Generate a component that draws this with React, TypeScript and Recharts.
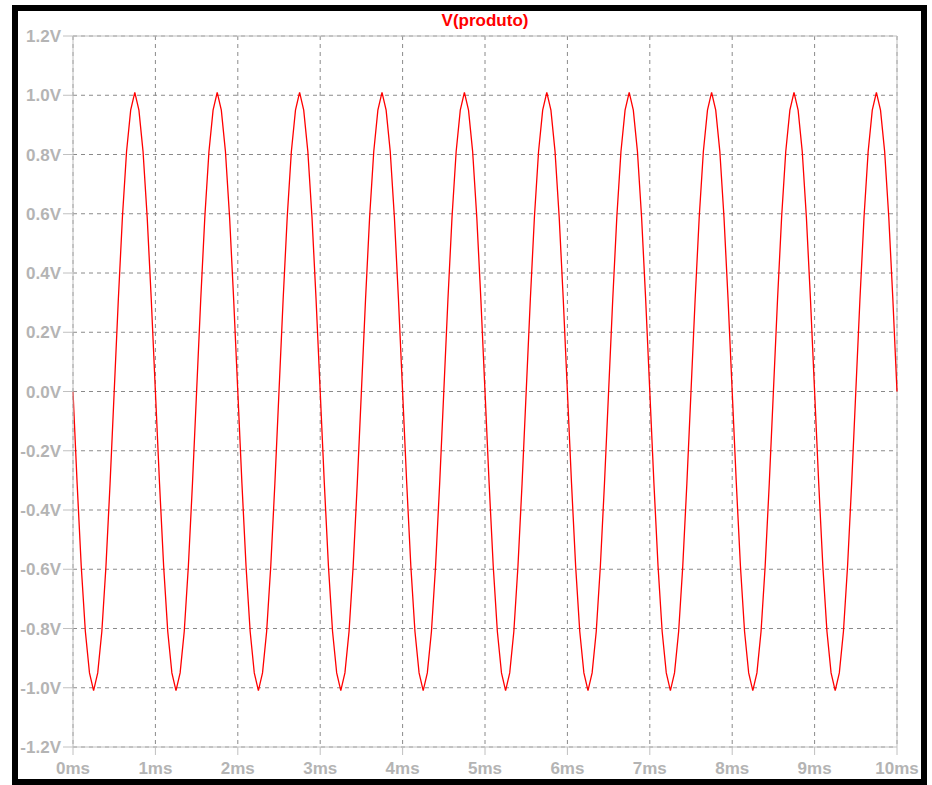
import React from 'react';
import {
  LineChart,
  Line,
  XAxis,
  YAxis,
  CartesianGrid,
  ReferenceLine,
} from 'recharts';

// sample spacing of the trace (ms)
const STEP_MS = 0.05;

// V(produto), one row per 1 ms period, 20 samples each
const VOLTS = [
  0, -0.31, -0.59, -0.81, -0.95, -1.01, -0.95, -0.81, -0.59, -0.31, 0, 0.31, 0.59, 0.81, 0.95, 1.01, 0.95, 0.81, 0.59, 0.31,
  0, -0.31, -0.59, -0.81, -0.95, -1.01, -0.95, -0.81, -0.59, -0.31, 0, 0.31, 0.59, 0.81, 0.95, 1.01, 0.95, 0.81, 0.59, 0.31,
  0, -0.31, -0.59, -0.81, -0.95, -1.01, -0.95, -0.81, -0.59, -0.31, 0, 0.31, 0.59, 0.81, 0.95, 1.01, 0.95, 0.81, 0.59, 0.31,
  0, -0.31, -0.59, -0.81, -0.95, -1.01, -0.95, -0.81, -0.59, -0.31, 0, 0.31, 0.59, 0.81, 0.95, 1.01, 0.95, 0.81, 0.59, 0.31,
  0, -0.31, -0.59, -0.81, -0.95, -1.01, -0.95, -0.81, -0.59, -0.31, 0, 0.31, 0.59, 0.81, 0.95, 1.01, 0.95, 0.81, 0.59, 0.31,
  0, -0.31, -0.59, -0.81, -0.95, -1.01, -0.95, -0.81, -0.59, -0.31, 0, 0.31, 0.59, 0.81, 0.95, 1.01, 0.95, 0.81, 0.59, 0.31,
  0, -0.31, -0.59, -0.81, -0.95, -1.01, -0.95, -0.81, -0.59, -0.31, 0, 0.31, 0.59, 0.81, 0.95, 1.01, 0.95, 0.81, 0.59, 0.31,
  0, -0.31, -0.59, -0.81, -0.95, -1.01, -0.95, -0.81, -0.59, -0.31, 0, 0.31, 0.59, 0.81, 0.95, 1.01, 0.95, 0.81, 0.59, 0.31,
  0, -0.31, -0.59, -0.81, -0.95, -1.01, -0.95, -0.81, -0.59, -0.31, 0, 0.31, 0.59, 0.81, 0.95, 1.01, 0.95, 0.81, 0.59, 0.31,
  0, -0.31, -0.59, -0.81, -0.95, -1.01, -0.95, -0.81, -0.59, -0.31, 0, 0.31, 0.59, 0.81, 0.95, 1.01, 0.95, 0.81, 0.59, 0.31,
  0,
];

const X_TICKS = [0, 1, 2, 3, 4, 5, 6, 7, 8, 9, 10];
const Y_TICKS = [-1.2, -1.0, -0.8, -0.6, -0.4, -0.2, 0, 0.2, 0.4, 0.6, 0.8, 1.0, 1.2];

const data = VOLTS.map((v, i) => ({ t: i * STEP_MS, v }));

const labelStyle = {
  fontFamily: 'Liberation Sans, Arial, sans-serif',
  fontSize: 17,
  fontWeight: 'bold',
  fill: '#b4b4b4',
};

export default function App() {
  return (
    <div style={{ position: 'absolute', left: 0, top: 0, width: 932, height: 785, background: '#fff' }}>
      {/* black frame around the plot window */}
      <div
        style={{
          position: 'absolute',
          left: 12,
          top: 5,
          width: 915,
          height: 780,
          border: '6px solid #000',
          boxSizing: 'border-box',
        }}
      />
      <div
        style={{
          position: 'absolute',
          left: 385,
          width: 200,
          top: 11,
          textAlign: 'center',
          fontFamily: 'Liberation Sans, Arial, sans-serif',
          fontWeight: 'bold',
          fontSize: 17,
          color: '#ff0000',
        }}
      >
        V(produto)
      </div>
      <LineChart
        width={932}
        height={785}
        data={data}
        margin={{ top: 36, right: 35, bottom: 8, left: 13 }}
        style={{ position: 'absolute', left: 0, top: 0 }}
      >
        <CartesianGrid stroke="#8a8a8a" strokeDasharray="4 4" />
        <XAxis
          dataKey="t"
          type="number"
          domain={[0, 10]}
          ticks={X_TICKS}
          tickFormatter={(t) => `${t}ms`}
          height={30}
          tickSize={8}
          tickMargin={7}
          stroke="#c0c0c0"
          tick={labelStyle}
          interval={0}
        />
        <YAxis
          type="number"
          domain={[-1.2, 1.2]}
          ticks={Y_TICKS}
          tickFormatter={(v) => `${v.toFixed(1)}V`}
          width={60}
          tickSize={10}
          tickMargin={2}
          stroke="#c0c0c0"
          tick={labelStyle}
          interval={0}
        />
        <ReferenceLine y={1.2} stroke="#c0c0c0" />
        <ReferenceLine x={10} stroke="#c0c0c0" />
        <Line
          type="linear"
          dataKey="v"
          stroke="#ff0000"
          strokeWidth={1.3}
          dot={false}
          isAnimationActive={false}
        />
      </LineChart>
    </div>
  );
}
